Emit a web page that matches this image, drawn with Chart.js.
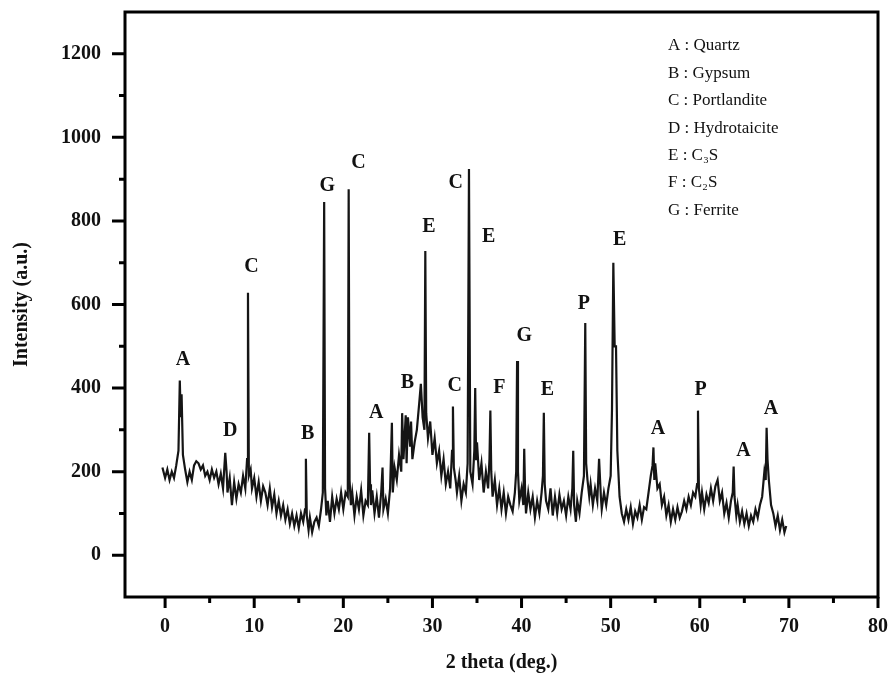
<!DOCTYPE html>
<html>
<head>
<meta charset="utf-8">
<script src="https://cdn.jsdelivr.net/npm/chart.js@4.4.1/dist/chart.umd.min.js"></script>
<style>
  html, body { margin:0; padding:0; background:#fff; }
  #wrap { width:889px; height:693px; }
</style>
</head>
<body>
<div id="wrap"><canvas id="xrd" width="889" height="693"></canvas></div>
<script>
// 2 theta positions (deg.) of the scan
const twoTheta = [
  -0.3, 0, 0.25, 0.5, 0.75, 1.0, 1.25, 1.5, 1.65, 1.75, 1.85, 2.0, 2.25, 2.5, 2.75, 3.0, 3.25, 3.5, 3.75, 4.0, 4.25, 4.5, 4.75,
  5.0, 5.25, 5.5, 5.75, 6.0, 6.25, 6.5, 6.75, 6.9, 7.0, 7.25, 7.5, 7.75, 8.0, 8.25, 8.5, 8.75, 9.0, 9.2, 9.3, 9.4, 9.6, 9.75,
  10.0, 10.25, 10.5, 10.75, 11.0, 11.25, 11.5, 11.75, 12.0, 12.25, 12.5, 12.75, 13.0, 13.25, 13.5, 13.75, 14.0, 14.25, 14.5, 14.75,
  15.0, 15.25, 15.5, 15.7, 15.8, 15.9, 16.1, 16.25, 16.5, 16.75, 17.0, 17.25, 17.5, 17.7, 17.85, 17.95, 18.1, 18.25, 18.5, 18.75, 19.0, 19.25, 19.5, 19.75,
  20.0, 20.25, 20.5, 20.6, 20.7, 20.85, 21.0, 21.25, 21.5, 21.75, 22.0, 22.25, 22.5, 22.75, 22.9, 23.0, 23.1, 23.25, 23.5, 23.75, 24.0, 24.25, 24.4, 24.5, 24.75,
  25.0, 25.25, 25.45, 25.55, 25.75, 26.0, 26.25, 26.5, 26.6, 26.75, 27.0, 27.1, 27.25, 27.5, 27.6, 27.75, 28.0, 28.25, 28.5, 28.7, 28.9, 29.1, 29.2, 29.3, 29.5, 29.75,
  30.0, 30.25, 30.5, 30.75, 31.0, 31.25, 31.5, 31.75, 32.0, 32.2, 32.3, 32.4, 32.6, 32.75, 33.0, 33.25, 33.5, 33.75, 33.95, 34.1, 34.25, 34.5, 34.7, 34.8, 34.9,
  35.0, 35.25, 35.5, 35.75, 36.0, 36.25, 36.4, 36.5, 36.6, 36.75, 37.0, 37.25, 37.5, 37.75, 38.0, 38.25, 38.5, 38.75, 39.0, 39.25, 39.4, 39.5, 39.6, 39.75,
  40.0, 40.2, 40.3, 40.4, 40.5, 40.75, 41.0, 41.25, 41.5, 41.75, 42.0, 42.25, 42.4, 42.5, 42.6, 42.75, 43.0, 43.25, 43.5, 43.75, 44.0, 44.25, 44.5, 44.75,
  45.0, 45.25, 45.5, 45.7, 45.8, 45.9, 46.1, 46.25, 46.5, 46.75, 47.0, 47.15, 47.25, 47.4, 47.6, 47.75, 48.0, 48.25, 48.5, 48.7, 48.9, 49.0, 49.25, 49.5, 49.75, 50.0, 50.15,
  50.3, 50.45, 50.6, 50.75, 51.0, 51.25, 51.5, 51.75, 52.0, 52.25, 52.5, 52.75, 53.0, 53.25, 53.5, 53.75, 54.0, 54.25, 54.5, 54.7, 54.8, 54.9, 55.0, 55.25, 55.5, 55.75,
  56.0, 56.25, 56.5, 56.75, 57.0, 57.25, 57.5, 57.75, 58.0, 58.25, 58.5, 58.75, 59.0, 59.25, 59.5, 59.7, 59.8, 59.9, 60.1, 60.25, 60.5, 60.75, 61.0, 61.25, 61.5, 61.75,
  62.0, 62.25, 62.5, 62.75, 63.0, 63.25, 63.5, 63.7, 63.8, 63.9, 64.1, 64.25, 64.5, 64.75, 65.0, 65.25, 65.5, 65.75, 66.0, 66.25, 66.5, 66.75, 67.0, 67.25, 67.4, 67.5, 67.6, 67.75, 68.0, 68.25, 68.5, 68.75, 69.0, 69.25, 69.5, 69.7
];

// intensity (a.u.) at each position
const intensity = [
  210, 185, 205, 180, 200, 185, 215, 250, 418, 330, 385, 240, 205, 175, 200, 180, 215, 225, 220, 205, 215, 190, 200,
  180, 205, 185, 200, 170, 195, 160, 245, 200, 150, 185, 120, 175, 135, 170, 150, 190, 160, 230, 628, 190, 205, 160,
  185, 140, 175, 130, 165, 150, 120, 160, 115, 145, 100, 130, 95, 120, 85, 110, 75, 100, 70, 95,
  65, 100, 80, 110, 231, 95, 60, 90, 55, 80, 90, 70, 110, 150, 845, 160, 95, 130, 80, 140, 100, 135, 110, 150,
  110, 150, 140, 876, 180, 120, 150, 95, 140, 110, 155, 95, 130, 120, 293, 170, 120, 155, 100, 140, 90, 150, 210, 110, 135,
  100, 160, 317, 150, 210, 180, 240, 200, 340, 230, 335, 220, 330, 260, 320, 230, 270, 300, 360, 410, 330, 300, 728, 340, 280, 320,
  240, 280, 220, 250, 190, 230, 170, 200, 160, 250, 356, 210, 180, 150, 190, 130, 170, 150, 220, 924, 200, 170, 250, 400, 230,
  270, 180, 220, 150, 200, 160, 230, 346, 200, 140, 180, 120, 160, 110, 150, 100, 140, 120, 105, 150, 200, 465, 200, 130,
  160, 120, 255, 150, 100, 150, 110, 140, 90, 130, 100, 150, 190, 341, 170, 130, 110, 160, 95, 140, 100, 145, 110, 130,
  95, 140, 110, 160, 250, 120, 80, 130, 100, 150, 190, 556, 220, 180, 140, 170, 120, 160, 130, 231, 140, 110, 150, 120, 160, 190, 350,
  700, 500, 500, 250, 140, 100, 80, 110, 85, 115, 75, 105, 90, 120, 85, 115, 110, 150, 190, 215, 258, 180, 220, 160, 170, 120,
  140, 95, 120, 80, 110, 85, 115, 90, 105, 130, 110, 140, 120, 150, 140, 170, 346, 160, 120, 150, 110, 145, 125, 160, 130, 165,
  180, 130, 150, 100, 125, 90, 130, 150, 212, 140, 95, 120, 80, 105, 75, 100, 70, 95, 80, 110, 90, 120, 140, 200, 180, 305, 230, 180, 120, 100, 70, 95, 60, 85, 55, 70
];

// phase letters over the peaks (position in data units)
const peakLetters = ["A","D","C","B","G","C","A","B","E","C","C","E","F","G","E","P","E","A","P","A","A"];
const peakLetterX = [2.0, 7.3, 9.7, 16.0, 18.2, 21.7, 23.7, 27.2, 29.6, 32.5, 32.6, 36.3, 37.5, 40.3, 42.9, 47.0, 51.0, 55.3, 60.1, 64.9, 68.0];
const peakLetterY = [468, 298, 690, 290, 883, 940, 340, 412, 787, 405, 890, 763, 400, 526, 395, 602, 755, 303, 395, 250, 350];

const legendLines = ["A : Quartz","B : Gypsum","C : Portlandite","D : Hydrotaicite","E : C\u2083S","F : C\u2082S","G : Ferrite"];

const xTickValues = [0,10,20,30,40,50,60,70,80];
const yTickValues = [0,200,400,600,800,1000,1200];
const xMinorValues = [5,15,25,35,45,55,65,75];
const yMinorValues = [100,300,500,700,900,1100];

const SERIF = '"Liberation Serif", "DejaVu Serif", serif';

const decor = {
  id: "decor",
  afterDatasetsDraw(chart){
    const { ctx, chartArea: a, scales: { x, y } } = chart;
    ctx.save();

    // peak letters
    ctx.fillStyle = "#111";
    ctx.font = "bold 20px " + SERIF;
    ctx.textAlign = "center";
    ctx.textBaseline = "middle";
    peakLetters.forEach((t, i) => {
      ctx.fillText(t, x.getPixelForValue(peakLetterX[i]), y.getPixelForValue(peakLetterY[i]));
    });

    // phase key, top right
    ctx.font = "17px " + SERIF;
    ctx.textAlign = "left";
    legendLines.forEach((t, i) => ctx.fillText(t, a.right - 210, a.top + 34 + i * 27.4));

    // frame
    ctx.strokeStyle = "#000";
    ctx.lineWidth = 3;
    ctx.strokeRect(a.left, a.top, a.right - a.left, a.bottom - a.top);

    // tick marks (outside)
    ctx.beginPath();
    xTickValues.forEach(v => { const px = x.getPixelForValue(v); ctx.moveTo(px, a.bottom); ctx.lineTo(px, a.bottom + 11); });
    xMinorValues.forEach(v => { const px = x.getPixelForValue(v); ctx.moveTo(px, a.bottom); ctx.lineTo(px, a.bottom + 6); });
    yTickValues.forEach(v => { const py = y.getPixelForValue(v); ctx.moveTo(a.left, py); ctx.lineTo(a.left - 13, py); });
    yMinorValues.forEach(v => { const py = y.getPixelForValue(v); ctx.moveTo(a.left, py); ctx.lineTo(a.left - 6, py); });
    ctx.stroke();
    ctx.restore();
  }
};

new Chart(document.getElementById("xrd"), {
  type: "scatter",
  data: {
    datasets: [{
      data: twoTheta.map((t, i) => ({ x: t, y: intensity[i] })),
      showLine: true,
      borderColor: "#151515",
      borderWidth: 2.2,
      pointRadius: 0,
      tension: 0
    }]
  },
  options: {
    responsive: false,
    animation: false,
    devicePixelRatio: 1,
    layout: { padding: { top: 12, right: 11, left: 0, bottom: 0 } },
    plugins: { legend: { display: false }, tooltip: { enabled: false } },
    scales: {
      x: {
        type: "linear",
        min: -4.5, max: 80,
        afterBuildTicks: s => { s.ticks = xTickValues.map(v => ({ value: v })); },
        afterFit: s => { s.height = 96; s.paddingLeft = 0; s.paddingRight = 0; },
        grid: { display: true, drawOnChartArea: false, drawTicks: true, tickLength: 10, color: "rgba(0,0,0,0)", tickColor: "rgba(0,0,0,0)" },
        border: { display: false },
        ticks: { color: "#111", font: { family: SERIF, size: 20, weight: "bold" }, padding: 8, maxRotation: 0, callback: v => String(v) },
        title: { display: true, text: "2 theta (deg.)", color: "#111", font: { family: SERIF, size: 20, weight: "bold" }, padding: { top: 0, bottom: 18 } }
      },
      y: {
        min: -100, max: 1300,
        afterBuildTicks: s => { s.ticks = yTickValues.map(v => ({ value: v })); },
        afterFit: s => { s.width = 125; s.paddingTop = 0; s.paddingBottom = 0; },
        grid: { display: true, drawOnChartArea: false, drawTicks: true, tickLength: 10, color: "rgba(0,0,0,0)", tickColor: "rgba(0,0,0,0)" },
        border: { display: false },
        ticks: { color: "#111", font: { family: SERIF, size: 20, weight: "bold" }, padding: 14, callback: v => String(v) },
        title: { display: true, text: "Intensity (a.u.)", color: "#111", font: { family: SERIF, size: 20, weight: "bold" }, padding: { top: 10, bottom: 0 } }
      }
    }
  },
  plugins: [decor]
});
</script>
</body>
</html>
